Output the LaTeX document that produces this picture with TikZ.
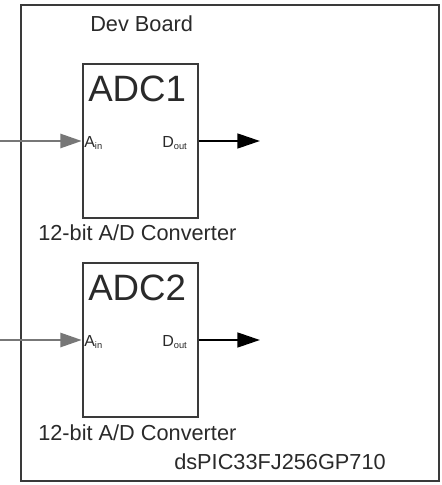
\documentclass[tikz,border=0pt]{standalone}
\usepackage{fontspec}
\setmainfont{Liberation Sans}
\usetikzlibrary{arrows.meta}
\definecolor{frame}{HTML}{3A3A3A}
\definecolor{txt}{HTML}{2A2A2A}
\definecolor{inline}{HTML}{777777}
\begin{document}
\begin{tikzpicture}[x=0.75pt,y=-0.75pt,
  boardbox/.style={draw=frame,line width=2.2pt,minimum width=313.5pt,minimum height=357pt,inner sep=0pt},
  adcbox/.style={draw=frame,line width=1.9pt,minimum width=86.25pt,minimum height=115.5pt,inner sep=0pt,fill=white},
  lbl/.style={inner sep=0pt,anchor=base west,text=txt},
  inarrow/.style={draw=inline,line width=2pt,-{Triangle[length=16pt,width=10.5pt]}},
  outarrow/.style={draw=black,line width=2pt,-{Triangle[length=17pt,width=11pt]}}]
\useasboundingbox (0,0) rectangle (442,485);
\fill[white] (0,0) rectangle (442,485);
\node[boardbox] (board) at (230,243) {};
\node[lbl,font=\fontsize{16.3pt}{18pt}\selectfont] (devlbl) at (90,32) {Dev Board};
\node[lbl,font=\fontsize{16.3pt}{18pt}\selectfont] (chiplbl) at (174,469) {dsPIC33FJ256GP710};

% ADC1
\node[adcbox] (adc1) at (140.5,141) {};
\node[lbl,font=\fontsize{27.5pt}{30pt}\selectfont] (adc1name) at (88,101) {ADC1};
\node[lbl,font=\fontsize{12pt}{13pt}\selectfont] (adc1in) at (84,147) {A\textsubscript{\fontsize{7pt}{8pt}\selectfont in}};
\node[lbl,font=\fontsize{12pt}{13pt}\selectfont] (adc1out) at (162,147) {D\textsubscript{\fontsize{7pt}{8pt}\selectfont out}};
\node[lbl,font=\fontsize{16.3pt}{18pt}\selectfont] (adc1conv) at (38,240) {12-bit A/D Converter};
\coordinate (in1) at (0,141);
\coordinate (out1) at (260,141);
\draw[inarrow] (in1) -- (in1 -| adc1.west);
\draw[outarrow] (adc1.east |- out1) -- (out1);

% ADC2
\node[adcbox] (adc2) at (140.5,340) {};
\node[lbl,font=\fontsize{27.5pt}{30pt}\selectfont] (adc2name) at (88,300) {ADC2};
\node[lbl,font=\fontsize{12pt}{13pt}\selectfont] (adc2in) at (84,346) {A\textsubscript{\fontsize{7pt}{8pt}\selectfont in}};
\node[lbl,font=\fontsize{12pt}{13pt}\selectfont] (adc2out) at (162,346) {D\textsubscript{\fontsize{7pt}{8pt}\selectfont out}};
\node[lbl,font=\fontsize{16.3pt}{18pt}\selectfont] (adc2conv) at (38,440) {12-bit A/D Converter};
\coordinate (in2) at (0,340);
\coordinate (out2) at (260,340);
\draw[inarrow] (in2) -- (in2 -| adc2.west);
\draw[outarrow] (adc2.east |- out2) -- (out2);
\end{tikzpicture}
\end{document}
